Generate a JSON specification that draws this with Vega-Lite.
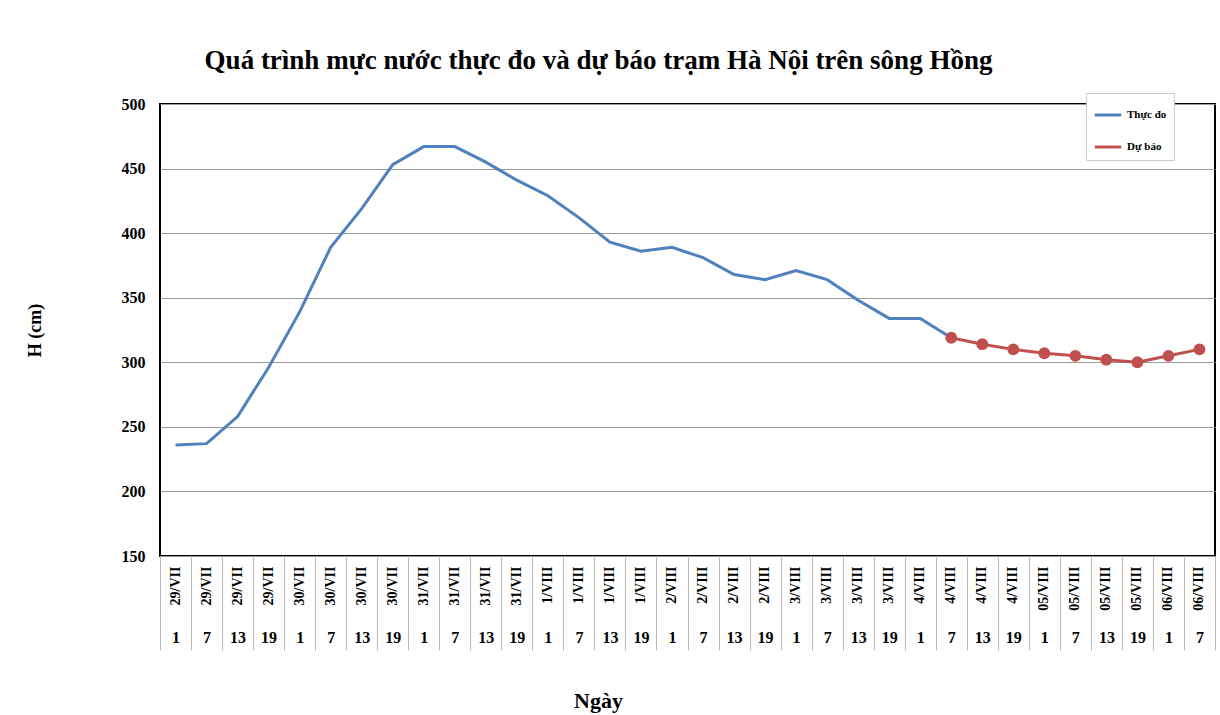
{
  "$schema": "https://vega.github.io/schema/vega-lite/v6.json",
  "autosize": "none",
  "width": 1055,
  "height": 452,
  "padding": {"left": 160, "top": 104, "right": 5, "bottom": 159},
  "background": "white",
  "title": {
    "text": "Quá trình mực nước thực đo và dự báo trạm Hà Nội trên sông Hồng",
    "anchor": "middle",
    "dx": -89,
    "offset": 18,
    "font": "Liberation Serif",
    "fontSize": 27,
    "fontWeight": "bold",
    "color": "black"
  },
  "config": {
    "view": {"stroke": "black", "strokeWidth": 2},
    "font": "Liberation Serif"
  },
  "data": {
    "values": [
      {"k": "29/VII 1", "s": "Thực đo", "v": 236},
      {"k": "29/VII 7", "s": "Thực đo", "v": 237},
      {"k": "29/VII 13", "s": "Thực đo", "v": 258},
      {"k": "29/VII 19", "s": "Thực đo", "v": 296},
      {"k": "30/VII 1", "s": "Thực đo", "v": 339},
      {"k": "30/VII 7", "s": "Thực đo", "v": 389},
      {"k": "30/VII 13", "s": "Thực đo", "v": 419},
      {"k": "30/VII 19", "s": "Thực đo", "v": 453},
      {"k": "31/VII 1", "s": "Thực đo", "v": 467},
      {"k": "31/VII 7", "s": "Thực đo", "v": 467},
      {"k": "31/VII 13", "s": "Thực đo", "v": 455},
      {"k": "31/VII 19", "s": "Thực đo", "v": 441},
      {"k": "1/VIII 1", "s": "Thực đo", "v": 429},
      {"k": "1/VIII 7", "s": "Thực đo", "v": 412},
      {"k": "1/VIII 13", "s": "Thực đo", "v": 393},
      {"k": "1/VIII 19", "s": "Thực đo", "v": 386},
      {"k": "2/VIII 1", "s": "Thực đo", "v": 389},
      {"k": "2/VIII 7", "s": "Thực đo", "v": 381},
      {"k": "2/VIII 13", "s": "Thực đo", "v": 368},
      {"k": "2/VIII 19", "s": "Thực đo", "v": 364},
      {"k": "3/VIII 1", "s": "Thực đo", "v": 371},
      {"k": "3/VIII 7", "s": "Thực đo", "v": 364},
      {"k": "3/VIII 13", "s": "Thực đo", "v": 348},
      {"k": "3/VIII 19", "s": "Thực đo", "v": 334},
      {"k": "4/VIII 1", "s": "Thực đo", "v": 334},
      {"k": "4/VIII 7", "s": "Thực đo", "v": 319},
      {"k": "4/VIII 7", "s": "Dự báo", "v": 319},
      {"k": "4/VIII 13", "s": "Dự báo", "v": 314},
      {"k": "4/VIII 19", "s": "Dự báo", "v": 310},
      {"k": "05/VIII 1", "s": "Dự báo", "v": 307},
      {"k": "05/VIII 7", "s": "Dự báo", "v": 305},
      {"k": "05/VIII 13", "s": "Dự báo", "v": 302},
      {"k": "05/VIII 19", "s": "Dự báo", "v": 300},
      {"k": "06/VIII 1", "s": "Dự báo", "v": 305},
      {"k": "06/VIII 7", "s": "Dự báo", "v": 310}
    ]
  },
  "encoding": {
    "y": {
      "field": "v",
      "type": "quantitative",
      "scale": {"domain": [150, 500], "nice": false, "zero": false},
      "axis": {
        "title": "H (cm)",
        "values": [150, 200, 250, 300, 350, 400, 450, 500],
        "grid": true,
        "gridColor": "#999999",
        "gridWidth": 1,
        "domain": false,
        "ticks": false,
        "labelPadding": 15,
        "labelFont": "Liberation Serif",
        "labelFontSize": 16,
        "labelFontWeight": "bold",
        "labelColor": "black",
        "titleFont": "Liberation Serif",
        "titleFontSize": 18,
        "titleFontWeight": "bold",
        "titleColor": "black",
        "titleX": -125,
        "titleAngle": 270,
        "titleBaseline": "middle"
      }
    }
  },
  "layer": [
    {
      "mark": {"type": "line", "strokeWidth": 3},
      "encoding": {
        "x": {
          "field": "k",
          "type": "nominal",
          "sort": null,
          "bandPosition": 0.5,
          "scale": {"type": "band", "paddingInner": 0, "paddingOuter": 0},
          "axis": {
            "orient": "bottom",
            "title": "Ngày",
            "labelExpr": "split(datum.value, ' ')[0]",
            "labelAngle": 270,
            "labelAlign": "right",
            "labelBaseline": "middle",
            "labelPadding": 10,
            "labelFont": "Liberation Serif",
            "labelFontSize": 14,
            "labelFontWeight": "bold",
            "labelColor": "black",
            "ticks": false,
            "domain": false,
            "grid": false,
            "titleFont": "Liberation Serif",
            "titleFontSize": 22,
            "titleFontWeight": "bold",
            "titleColor": "black",
            "titleX": 438,
            "titleY": 151,
            "titleBaseline": "alphabetic"
          }
        },
        "color": {
          "field": "s",
          "type": "nominal",
          "scale": {"domain": ["Thực đo", "Dự báo"], "range": ["#4F81BD", "#C0504D"]},
          "legend": {
            "title": null,
            "orient": "none",
            "legendX": 926,
            "legendY": -11,
            "direction": "vertical",
            "strokeColor": "#cccccc",
            "fillColor": "white",
            "padding": 7,
            "symbolType": "stroke",
            "symbolSize": 700,
            "symbolStrokeWidth": 3,
            "rowPadding": 11,
            "labelFont": "Liberation Serif",
            "labelFontSize": 11,
            "labelFontWeight": "bold",
            "labelColor": "black",
            "labelOffset": 4
          }
        }
      }
    },
    {
      "mark": {"type": "point", "filled": true, "size": 140, "opacity": 1},
      "transform": [{"filter": "datum.s == 'Dự báo'"}],
      "encoding": {
        "x": {
          "field": "k",
          "type": "nominal",
          "sort": null,
          "bandPosition": 0.5,
          "scale": {"type": "band", "paddingInner": 0, "paddingOuter": 0},
          "axis": {
            "orient": "bottom",
            "title": null,
            "labelExpr": "split(datum.value, ' ')[1]",
            "labelAngle": 0,
            "labelAlign": "center",
            "labelBaseline": "middle",
            "labelPadding": -13,
            "labelFont": "Liberation Serif",
            "labelFontSize": 16,
            "labelFontWeight": "bold",
            "labelColor": "black",
            "ticks": true,
            "tickBand": "extent",
            "tickSize": 94,
            "tickColor": "#bbbbbb",
            "tickWidth": 1,
            "domain": false,
            "grid": false
          }
        },
        "color": {"value": "#C0504D"}
      }
    }
  ],
  "resolve": {"axis": {"x": "independent"}}
}
